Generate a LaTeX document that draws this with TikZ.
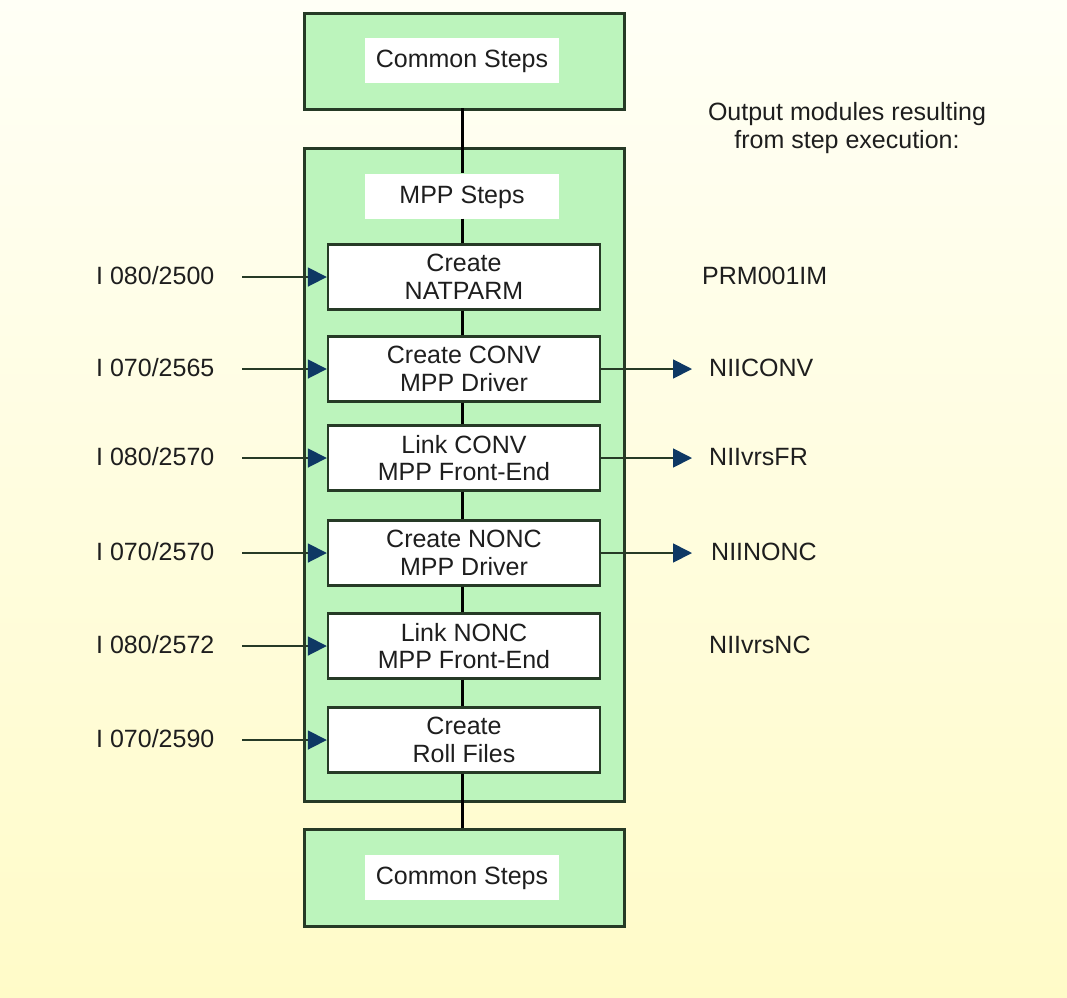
\documentclass[tikz,border=0pt]{standalone}
\usepackage{fontspec}
\setmainfont{Liberation Sans}
\usetikzlibrary{arrows.meta}
\definecolor{bgtop}{RGB}{255,255,246}
\definecolor{bgbot}{RGB}{255,251,200}
\definecolor{grfill}{RGB}{188,244,188}
\definecolor{bord}{RGB}{38,58,38}
\definecolor{tipc}{RGB}{14,56,100}
\definecolor{txt}{RGB}{30,30,30}
\begin{document}
\begin{tikzpicture}[x=1pt,y=-1pt,
  every node/.style={text=txt,font=\fontsize{25}{27.5}\selectfont,inner sep=0pt},
  groupbox/.style={draw=bord,line width=2.6pt,fill=grfill,minimum width=320,anchor=north west},
  labelbox/.style={fill=white,minimum width=194,minimum height=45,text height=18pt,text depth=4pt},
  stepbox/.style={draw=bord,line width=2.4pt,fill=white,minimum width=272,minimum height=65,align=center},
  link/.style={line width=3pt,black},
  arr/.style={line width=1.8pt,draw=bord,-{Triangle[length=19pt,width=19pt,color=tipc]}},
  lbl/.style={anchor=west,text height=18pt,text depth=4pt}]
\useasboundingbox (0,0) rectangle (1067,997);
\shade[top color=bgtop,bottom color=bgbot] (0,0) rectangle (1067,997);
% group boxes
\node[groupbox,minimum height=96] (top) at (303,12) {};
\node[groupbox,minimum height=653] (mpp) at (303,147) {};
\node[groupbox,minimum height=97] (bot) at (303,828) {};
\node[labelbox] (ctop) at (462,60) {Common Steps};
\node[labelbox] (mlab) at (462,196) {MPP Steps};
\node[labelbox] (cbot) at (462,877) {Common Steps};
% steps
\node[stepbox] (s1) at (464,277) {Create\\NATPARM};
\node[stepbox] (s2) at (464,369) {Create CONV\\MPP Driver};
\node[stepbox] (s3) at (464,458) {Link CONV\\MPP Front-End};
\node[stepbox] (s4) at (464,553) {Create NONC\\MPP Driver};
\node[stepbox] (s5) at (464,646) {Link NONC\\MPP Front-End};
\node[stepbox] (s6) at (464,740) {Create\\Roll Files};
% vertical links
\draw[link] (462,108) -- (462,147);
\draw[link] (462,147) -- (mlab.north -| 462,0);
\draw[link] (mlab.south -| 462,0) -- (s1.north -| 462,0);
\draw[link] (s1.south -| 462,0) -- (s2.north -| 462,0);
\draw[link] (s2.south -| 462,0) -- (s3.north -| 462,0);
\draw[link] (s3.south -| 462,0) -- (s4.north -| 462,0);
\draw[link] (s4.south -| 462,0) -- (s5.north -| 462,0);
\draw[link] (s5.south -| 462,0) -- (s6.north -| 462,0);
\draw[link] (s6.south -| 462,0) -- (bot.north -| 462,0);
% left inputs
\node[lbl] (i1) at (96,277) {I 080/2500};
\node[lbl] (i2) at (96,369) {I 070/2565};
\node[lbl] (i3) at (96,458) {I 080/2570};
\node[lbl] (i4) at (96,553) {I 070/2570};
\node[lbl] (i5) at (96,646) {I 080/2572};
\node[lbl] (i6) at (96,740) {I 070/2590};
\coordinate (a1) at (242,277);
\coordinate (a2) at (242,369);
\coordinate (a3) at (242,458);
\coordinate (a4) at (242,553);
\coordinate (a5) at (242,646);
\coordinate (a6) at (242,740);
\foreach \k in {1,...,6} {\draw[arr] (a\k) -- (s\k.west);}
% outputs
\node[align=center] (hdr) at (847,128) {Output modules resulting\\from step execution:};
\node[lbl] (o1) at (702,277) {PRM001IM};
\node[lbl] (o2) at (709,369) {NIICONV};
\node[lbl] (o3) at (709,458) {NIIvrsFR};
\node[lbl] (o4) at (711,553) {NIINONC};
\node[lbl] (o5) at (709,646) {NIIvrsNC};
\coordinate (b2) at (692,369);
\coordinate (b3) at (692,458);
\coordinate (b4) at (692,553);
\draw[arr] (s2.east) -- (b2);
\draw[arr] (s3.east) -- (b3);
\draw[arr] (s4.east) -- (b4);
\end{tikzpicture}
\end{document}
